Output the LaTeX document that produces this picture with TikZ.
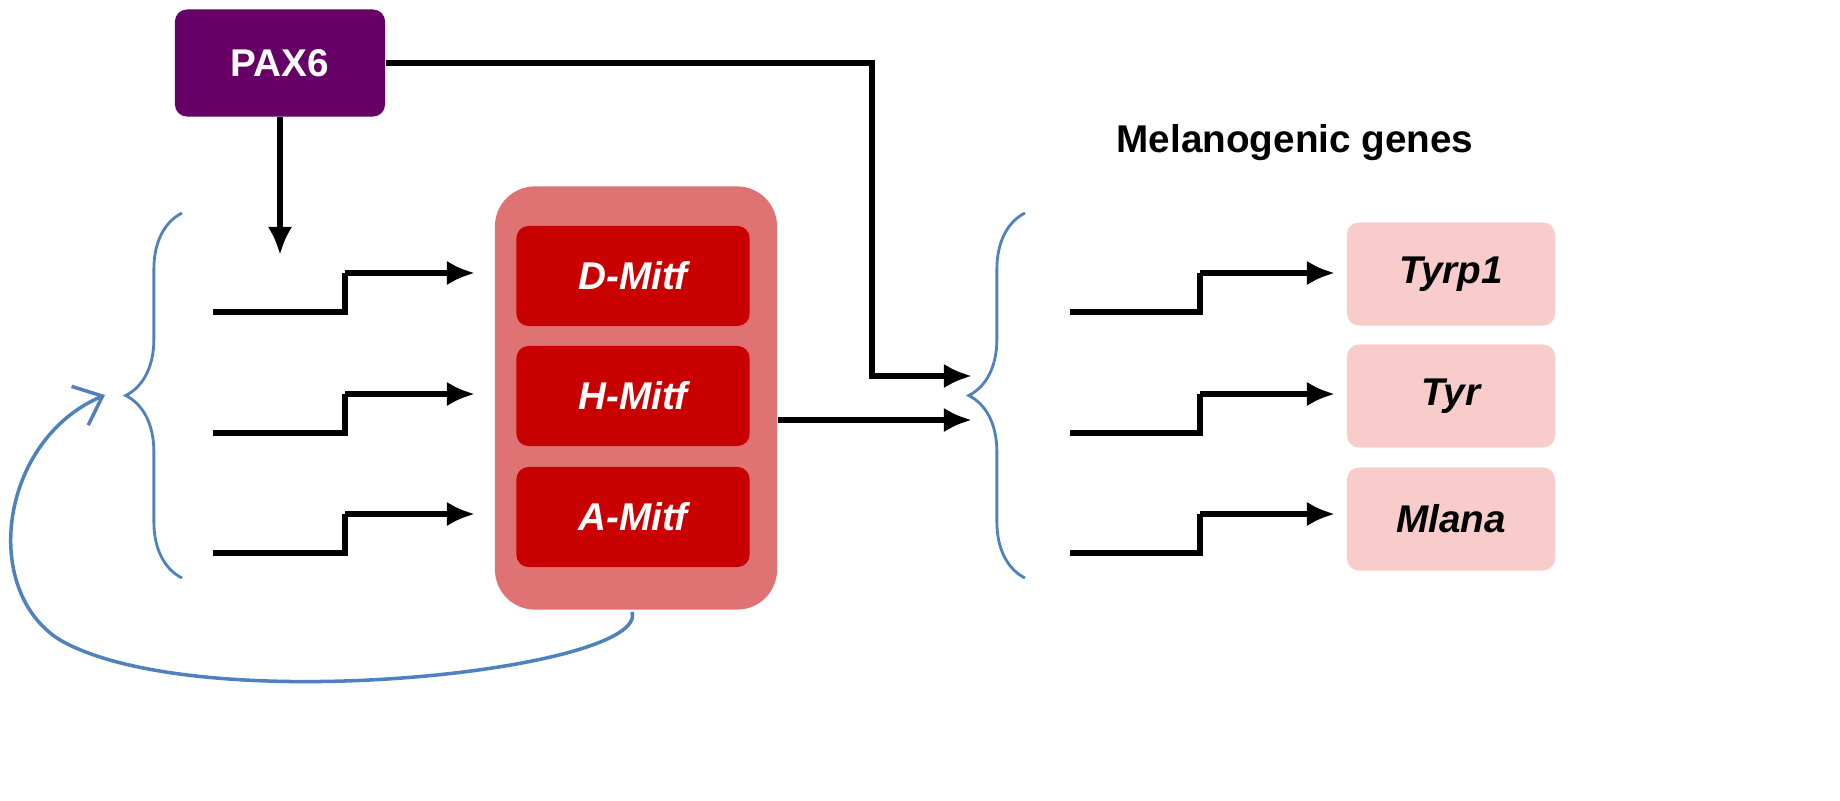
\documentclass[tikz,border=0pt]{standalone}
\usepackage{fontspec}
\setmainfont{Liberation Sans}
\usetikzlibrary{decorations.pathreplacing,arrows.meta}
\definecolor{pax}{HTML}{660066}
\definecolor{outer}{HTML}{DF7373}
\definecolor{inner}{HTML}{C80000}
\definecolor{gene}{HTML}{F9CCCC}
\definecolor{bl}{HTML}{4F81BD}
\begin{document}
\begin{tikzpicture}[x=0.01cm,y=-0.01cm,
 arr/.style={line width=1.6pt,-{Latex[length=8pt,width=7pt]}},
 ln/.style={line width=1.6pt},
 br/.style={bl,line width=0.8pt,decorate,decoration={brace,amplitude=16pt}},
 mitf/.style={fill=inner,rounded corners=0.12cm,minimum width=2.33cm,minimum height=1.0cm,text=white,font=\bfseries\itshape\fontsize{11}{13}\selectfont},
 gn/.style={fill=gene,rounded corners=0.12cm,minimum width=2.08cm,minimum height=1.03cm,font=\bfseries\itshape\fontsize{11}{13}\selectfont}]
\node[fill=pax,rounded corners=0.12cm,minimum width=2.1cm,minimum height=1.07cm,text=white,font=\bfseries\fontsize{11}{13}\selectfont] (pax) at (280,63) {PAX6};
\node[fill=outer,rounded corners=0.4cm,minimum width=2.82cm,minimum height=4.23cm] (big) at (636,398) {};
\node[mitf] (d) at (633,276) {D-Mitf};
\node[mitf] (h) at (633,396) {H-Mitf};
\node[mitf] (a) at (633,517) {A-Mitf};
\node[gn] (t1) at (1451,274) {Tyrp1};
\node[gn] (t) at (1451,396) {Tyr};
\node[gn] (m) at (1451,519) {Mlana};
\node[font=\bfseries\fontsize{11}{13}\selectfont] (mg) at (1295,143) {Melanogenic genes};
\coordinate (p1) at (280,255);
\draw[arr] (pax.south) -- (p1);
\coordinate (q1) at (972,376);
\draw[arr] (pax.east) -- (872,63) -- (872,376) -- (q1);
\coordinate (q2) at (972,420);
\draw[arr] (big.east |- 0,420) -- (q2);
\foreach \y in {312,433,553}{
 \draw[ln] (213,\y) -- (345,\y) -- (345,\y-39);
 \draw[arr] (345,\y-39) -- (475,\y-39);
}
\foreach \y in {312,433,553}{
 \draw[ln] (1070,\y) -- (1200,\y) -- (1200,\y-39);
 \draw[arr] (1200,\y-39) -- (1335,\y-39);
}
\draw[br] (182,578) -- (182,213);
\draw[br] (1025,578) -- (1025,213);
\coordinate (c0) at (632,612);
\coordinate (c1) at (105,395);
\draw[bl,line width=1pt,-{Straight Barb[length=7pt,width=12pt]}] (c0) .. controls (650,670) and (200,720) .. (60,640)
 .. controls (-20,590) and (0,440) .. (c1);
\pgfresetboundingbox
\path[use as bounding box] (0,0) rectangle (1840,800);
\end{tikzpicture}
\end{document}
